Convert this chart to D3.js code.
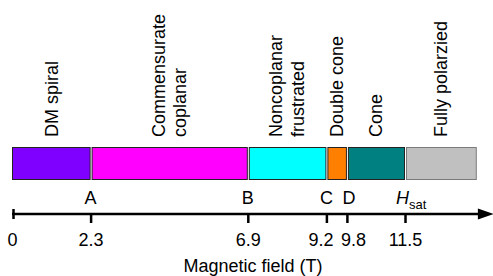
<!DOCTYPE html>
<html>
<head>
<meta charset="utf-8">
<script src="https://cdn.jsdelivr.net/npm/d3@7"></script>
<style>
  html, body { margin: 0; padding: 0; background: #fff; }
  svg { display: block; font-family: "Liberation Sans", Arial, Helvetica, sans-serif; }
</style>
</head>
<body>
<svg id="chart" width="493" height="276"></svg>
<script>
// ── Data ──────────────────────────────────────────────────────────────────────
const phaseNames  = [['DM spiral'], ['Commensurate', 'coplanar'], ['Noncoplanar', 'frustrated'],
                     ['Double cone'], ['Cone'], ['Fully polarzied']];
const phaseStart  = [0, 2.3, 6.9, 9.2, 9.8, 11.5];
const phaseEnd    = [2.3, 6.9, 9.2, 9.8, 11.5, 13.6];
const phaseColors = ['#7f00ff', '#ff00ff', '#00ffff', '#ff8000', '#008080', '#c0c0c0'];
const critValues  = [2.3, 6.9, 9.2, 9.8, 11.5];
const critLetters = ['A', 'B', 'C', 'D', 'H'];
const tickValues  = [0, 2.3, 6.9, 9.2, 9.8, 11.5];
const tickLabels  = ['0', '2.3', '6.9', '9.2', '9.8', '11.5'];
const axisMax     = 14.1;

// ── Layout ────────────────────────────────────────────────────────────────────
const svg = d3.select('#chart');
const x = d3.scaleLinear().domain([0, 11.5]).range([12, 405]);
const barTop = 147, barH = 32, labelBase = 137, axisY = 214;

// bar segments
const phases = phaseNames.map((n, i) => ({ n, s: phaseStart[i], e: phaseEnd[i], c: phaseColors[i] }));

svg.append('g').selectAll('rect').data(phases).join('rect')
  .attr('x', (d, i) => x(d.s) + (i ? 1 : 0) + 0.5)
  .attr('y', barTop + 0.5)
  .attr('width', (d, i) => x(d.e) - x(d.s) - (i ? 1 : 0) - 1)
  .attr('height', barH)
  .attr('fill', d => d.c)
  .attr('stroke', (d, i) => i === phases.length - 1 ? '#7a7a7a' : '#222')
  .attr('stroke-width', 1);

// rotated phase labels
const lh = 22;
const lab = svg.append('g').selectAll('g').data(phases).join('g')
  .attr('transform', d => `translate(${(x(d.s) + x(d.e)) / 2},${labelBase}) rotate(-90)`);
lab.each(function(d) {
  const g = d3.select(this);
  d.n.forEach((t, j) => {
    g.append('text')
      .attr('x', 0)
      .attr('y', (j - (d.n.length - 1) / 2) * lh)
      .attr('dy', '0.35em')
      .attr('font-size', 18)
      .attr('fill', '#000')
      .text(t);
  });
});

// axis
const ax = svg.append('g').attr('transform', `translate(0,${axisY})`);
ax.append('line')
  .attr('x1', x(0)).attr('x2', x(axisMax) - 12)
  .attr('stroke', '#000').attr('stroke-width', 2.5);
ax.append('path')
  .attr('d', `M${x(axisMax) - 16},-5.5L${x(axisMax)},0L${x(axisMax) - 16},5.5Z`)
  .attr('fill', '#000');
ax.append('line')
  .attr('x1', x(0) + 1.5).attr('x2', x(0) + 1.5).attr('y1', -5).attr('y2', 5)
  .attr('stroke', '#000').attr('stroke-width', 2.5);

const axis = d3.axisBottom(x)
  .tickValues(tickValues)
  .tickFormat((d, i) => tickLabels[i])
  .tickSize(9)
  .tickPadding(10);
const axg = ax.append('g').call(axis);
axg.select('.domain').remove();
axg.selectAll('.tick line').attr('stroke', '#000').attr('stroke-width', 2.5)
  .filter(d => d === 0).remove();
const nudge = { 9.2: -6, 9.8: 6 };
axg.selectAll('.tick text')
  .attr('font-size', 18).attr('font-family', null).attr('fill', '#000')
  .attr('dx', d => nudge[d] || 0);

// critical field letters
const crit = svg.append('g').selectAll('text').data(critValues).join('text')
  .attr('x', d => x(d))
  .attr('y', 204)
  .attr('font-size', 18)
  .attr('text-anchor', (d, i) => critLetters[i] === 'H' ? 'start' : 'middle')
  .attr('dx', (d, i) => critLetters[i] === 'H' ? -9 : (critLetters[i] === 'D' ? 2 : 0));
crit.each(function(d, i) {
  const t = d3.select(this);
  if (critLetters[i] === 'H') {
    t.append('tspan').attr('font-style', 'italic').text('H');
    t.append('tspan').attr('font-size', 13).attr('dy', 5).text('sat');
  } else {
    t.text(critLetters[i]);
  }
});

// axis title
svg.append('text')
  .attr('x', (x(0) + x(axisMax)) / 2)
  .attr('y', 272)
  .attr('text-anchor', 'middle')
  .attr('font-size', 18)
  .text('Magnetic field (T)');
</script>
</body>
</html>
